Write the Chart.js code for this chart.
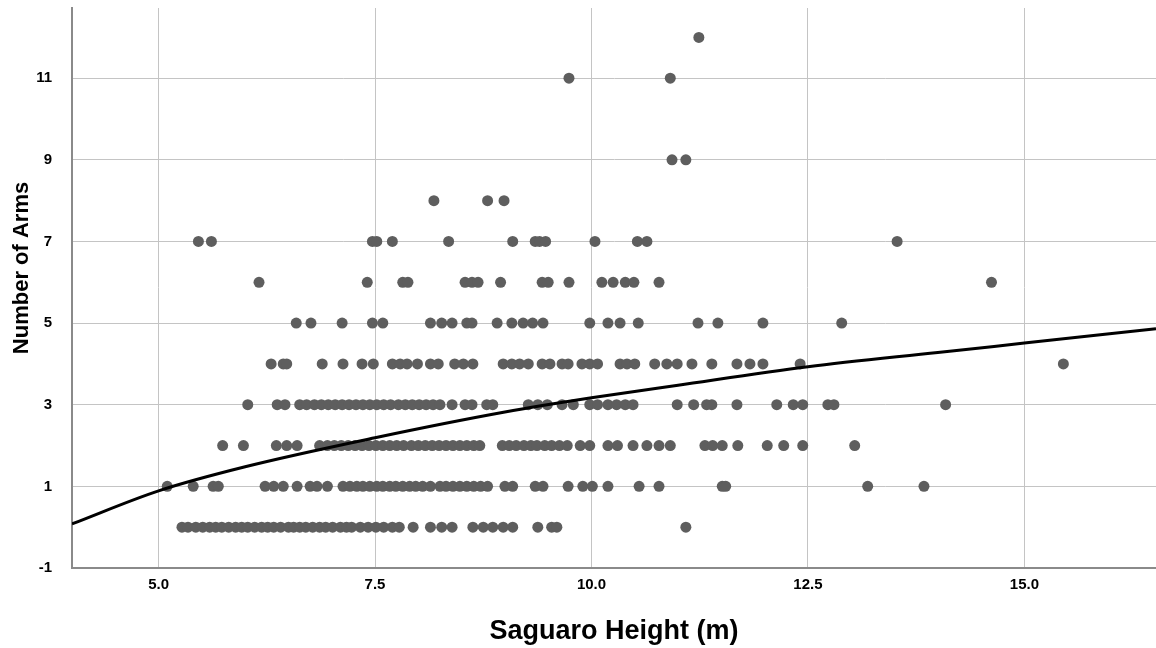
<!DOCTYPE html>
<html>
<head>
<meta charset="utf-8">
<script src="https://cdn.jsdelivr.net/npm/chart.js@4.4.1/dist/chart.umd.min.js"></script>
<style>
html,body{margin:0;padding:0;background:#fff;}
#wrap{width:1156px;height:648px;position:relative;}
</style>
</head>
<body>
<div id="wrap"><canvas id="c" width="1156" height="648"></canvas></div>
<script>
// Saguaro heights (m) grouped by number of arms
const arms0 = [5.27,5.34,5.43,5.51,5.59,5.66,5.73,5.81,5.89,5.96,6.03,6.11,6.19,6.26,6.33,6.41,6.50,6.56,6.63,6.70,6.78,6.86,6.93,7.01,7.10,7.17,7.23,7.33,7.42,7.51,7.60,7.70,7.78,7.94,8.14,8.27,8.39,8.63,8.75,8.86,8.98,9.09,9.38,9.54,9.60,11.09];
const arms1 = [5.10,5.40,5.63,5.69,6.23,6.33,6.44,6.60,6.75,6.83,6.95,7.13,7.21,7.29,7.36,7.44,7.52,7.59,7.67,7.74,7.82,7.90,7.97,8.05,8.14,8.25,8.32,8.40,8.48,8.56,8.64,8.72,8.80,9.00,9.09,9.35,9.44,9.73,9.90,10.01,10.19,10.55,10.78,11.51,11.55,13.19,13.84];
const arms2 = [5.74,5.98,6.36,6.48,6.60,6.86,6.95,7.03,7.11,7.19,7.27,7.35,7.43,7.51,7.59,7.67,7.75,7.83,7.92,8.00,8.08,8.16,8.24,8.32,8.40,8.48,8.56,8.64,8.71,8.97,9.05,9.13,9.22,9.30,9.37,9.46,9.54,9.63,9.72,9.87,9.98,10.19,10.30,10.48,10.64,10.78,10.91,11.31,11.40,11.51,11.69,12.03,12.22,12.44,13.04];
const arms3 = [6.03,6.37,6.46,6.63,6.71,6.80,6.88,6.96,7.04,7.12,7.20,7.28,7.36,7.44,7.52,7.60,7.68,7.77,7.85,7.93,8.01,8.09,8.17,8.25,8.39,8.54,8.62,8.79,8.86,9.27,9.38,9.49,9.66,9.79,9.98,10.07,10.19,10.29,10.39,10.48,10.99,11.18,11.33,11.39,11.68,12.14,12.33,12.44,12.73,12.80,14.09];
const arms4 = [6.30,6.44,6.48,6.89,7.13,7.35,7.48,7.70,7.79,7.87,7.99,8.14,8.23,8.42,8.52,8.63,8.98,9.08,9.17,9.27,9.43,9.52,9.66,9.73,9.89,9.98,10.07,10.33,10.41,10.50,10.73,10.87,10.99,11.16,11.39,11.68,11.83,11.98,12.41,15.45];
const arms5 = [6.59,6.76,7.12,7.47,7.59,8.14,8.27,8.39,8.56,8.62,8.91,9.08,9.21,9.32,9.44,9.98,10.19,10.33,10.54,11.23,11.46,11.98,12.89];
const arms6 = [6.16,7.41,7.82,7.88,8.54,8.62,8.69,8.95,9.43,9.50,9.74,10.12,10.25,10.39,10.49,10.78,14.62];
const arms7 = [5.46,5.61,7.47,7.52,7.70,8.35,9.09,9.35,9.40,9.47,10.04,10.53,10.64,13.53];
const arms8 = [8.18,8.80,8.99];
const arms9 = [10.93,11.09];
const arms11 = [9.74,10.91];
const arms12 = [11.24];

// Fitted curve
const fitHeights = [4.0, 5.0, 6.0, 7.5, 9.0, 10.0, 11.0, 12.5, 14.0, 15.0, 16.52];
const fitArms    = [0.08, 0.89, 1.48, 2.19, 2.82, 3.17, 3.48, 3.93, 4.28, 4.51, 4.86];

// Tick labels
const xTicks = [5.0, 7.5, 10.0, 12.5, 15.0];
const yTicks = [-1, 1, 3, 5, 7, 9, 11];

const groups = [[0,arms0],[1,arms1],[2,arms2],[3,arms3],[4,arms4],[5,arms5],[6,arms6],[7,arms7],[8,arms8],[9,arms9],[11,arms11],[12,arms12]];
const points = [];
groups.forEach(([a, hs]) => hs.forEach(h => points.push({x: h, y: a})));
const curve = fitHeights.map((h, i) => ({x: h, y: fitArms[i]}));

const FONT = "'Liberation Sans', Arial, sans-serif";

const yTitlePlugin = {
  id: 'yTitle',
  afterDraw(chart) {
    const ctx = chart.ctx;
    ctx.save();
    ctx.translate(22, 268);
    ctx.rotate(-Math.PI / 2);
    ctx.font = "bold 22px " + FONT;
    ctx.fillStyle = '#000';
    ctx.textAlign = 'center';
    ctx.textBaseline = 'middle';
    ctx.fillText('Number of Arms', 0, 0);
    ctx.restore();
  }
};

new Chart(document.getElementById('c'), {
  type: 'scatter',
  data: {
    datasets: [
      {
        type: 'line',
        data: curve,
        borderColor: '#000',
        borderWidth: 3,
        pointRadius: 0,
        pointHoverRadius: 0,
        fill: false,
        cubicInterpolationMode: 'monotone',
        order: 0
      },
      {
        data: points,
        backgroundColor: '#5e5e5e',
        borderColor: '#5e5e5e',
        borderWidth: 0,
        pointRadius: 5.5,
        pointHoverRadius: 5.5,
        order: 1
      }
    ]
  },
  options: {
    responsive: false,
    animation: false,
    events: [],
    layout: {autoPadding: false, padding: {top: 8, right: 0, left: 0, bottom: 0}},
    plugins: {legend: {display: false}, tooltip: {enabled: false}, title: {display: false}},
    scales: {
      x: {
        type: 'linear',
        min: 4.0,
        max: 16.52,
        afterBuildTicks: s => { s.ticks = xTicks.map(v => ({value: v})); },
        afterFit: s => { s.height = 80; s.paddingLeft = 0; s.paddingRight = 0; },
        ticks: {
          callback: v => Number(v).toFixed(1),
          font: {family: FONT, size: 15, weight: 'bold'},
          color: '#000',
          padding: 8,
          maxRotation: 0
        },
        grid: {color: '#c4c4c4', lineWidth: 1, drawTicks: false},
        border: {color: '#8a8a8a', width: 2},
        title: {
          display: true,
          text: 'Saguaro Height (m)',
          font: {family: FONT, size: 27, weight: 'bold'},
          color: '#000',
          padding: {top: 9, bottom: 0}
        }
      },
      y: {
        type: 'linear',
        min: -1,
        max: 12.72,
        afterBuildTicks: s => { s.ticks = yTicks.map(v => ({value: v})); },
        afterFit: s => { s.width = 72; s.paddingTop = 0; s.paddingBottom = 0; },
        ticks: {
          font: {family: FONT, size: 15, weight: 'bold'},
          color: '#000',
          padding: 20
        },
        grid: {color: '#c4c4c4', lineWidth: 1, drawTicks: false},
        border: {color: '#8a8a8a', width: 2}
      }
    }
  },
  plugins: [yTitlePlugin]
});
</script>
</body>
</html>
